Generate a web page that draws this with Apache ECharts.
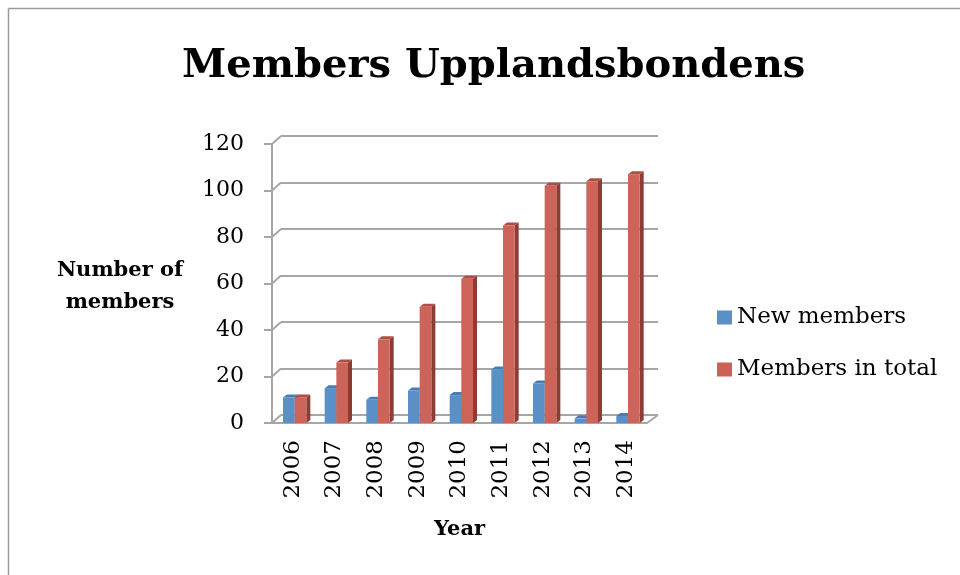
<!DOCTYPE html>
<html>
<head>
<meta charset="utf-8">
<script src="https://cdn.jsdelivr.net/npm/echarts@6/dist/echarts.min.js"></script>
<style>
  html, body { margin: 0; padding: 0; background: #fff; }
  #main { width: 960px; height: 575px; }
</style>
</head>
<body>
<div id="main"></div>
<script>
// data
var years = ['2006', '2007', '2008', '2009', '2010', '2011', '2012', '2013', '2014'];
var newMembers = [11, 15, 10, 14, 12, 23, 17, 2, 3];
var totalMembers = [11, 26, 36, 50, 62, 85, 102, 104, 107];
var yTicks = [0, 20, 40, 60, 80, 100, 120];

var serif = '"DejaVu Serif", "Liberation Serif", serif';
var gridColor = '#a6a6a6';
var DX = 9, DY = -8;     // back wall offset
var BX = 4, BY = -3;     // bar depth

function bar3d(slot, front, side, top) {
  return function (params, api) {
    var i = api.value(0);
    var band = api.size([1, 0])[0];
    var c0 = api.coord([i, 0]);
    var c1 = api.coord([i, api.value(1)]);
    var w = band * 0.28;
    var x0 = c0[0] - band / 2 + band * 0.264 + slot * w;
    var x1 = x0 + w;
    var yb = c0[1], yt = c1[1];
    return {
      type: 'group',
      children: [
        { type: 'polygon', shape: { points: [[x1, yt], [x1 + BX, yt + BY], [x1 + BX, yb + BY], [x1, yb]] }, style: { fill: side } },
        { type: 'polygon', shape: { points: [[x0, yt], [x0 + BX, yt + BY], [x1 + BX, yt + BY], [x1, yt]] }, style: { fill: top } },
        { type: 'rect', shape: { x: x0, y: yt, width: w, height: yb - yt }, style: { fill: front } }
      ]
    };
  };
}

var chart = echarts.init(document.getElementById('main'));
chart.setOption({
  animation: false,
  title: {
    text: 'Members Upplandsbondens',
    left: 177,
    top: 42,
    textStyle: { fontFamily: serif, fontWeight: 'bold', fontSize: 40, color: '#000' }
  },
  legend: {
    orient: 'vertical',
    left: 717,
    top: 306,
    padding: 0,
    itemWidth: 15,
    itemHeight: 14,
    itemGap: 29,
    icon: 'rect',
    textStyle: { fontFamily: serif, fontSize: 23, color: '#000' },
    data: ['New members', 'Members in total']
  },
  graphic: [
    { type: 'line', shape: { x1: 8.5, y1: 8.5, x2: 8.5, y2: 575 }, style: { stroke: '#9a9a9a', lineWidth: 1.5 } },
    { type: 'line', shape: { x1: 8.5, y1: 8.5, x2: 960, y2: 8.5 }, style: { stroke: '#9a9a9a', lineWidth: 1.5 } },
    { type: 'text', x: 120, y: 287, style: { text: 'Number of\nmembers', align: 'center', verticalAlign: 'middle', fontFamily: serif, fontWeight: 'bold', fontSize: 21, lineHeight: 32, fill: '#000' } }
  ],
  grid: [
    { left: 272, right: 313, top: 144, bottom: 152 },
    { left: 272 + DX, right: 313 - DX - 2, top: 144 + DY, bottom: 152 - DY }
  ],
  xAxis: [
    {
      type: 'category', gridIndex: 0, data: years,
      name: 'Year', nameLocation: 'middle', nameGap: 96,
      nameTextStyle: { fontFamily: serif, fontWeight: 'bold', fontSize: 21, color: '#000' },
      axisLine: { lineStyle: { color: gridColor, width: 2 } },
      axisTick: { length: 7, lineStyle: { color: gridColor, width: 2 } },
      axisLabel: { rotate: 90, margin: 17, fontFamily: serif, fontSize: 23, color: '#000' }
    },
    { type: 'category', gridIndex: 1, data: years, show: false }
  ],
  yAxis: [
    {
      type: 'value', gridIndex: 0, min: 0, max: 120, interval: 20,
      axisLine: { show: true, lineStyle: { color: gridColor, width: 2 } },
      axisTick: { show: true, length: 8, lineStyle: { color: gridColor, width: 2 } },
      axisLabel: { margin: 28, fontFamily: serif, fontSize: 22, color: '#000' },
      splitLine: { show: false }
    },
    {
      type: 'value', gridIndex: 1, min: 0, max: 120, interval: 20,
      axisLine: { show: false }, axisTick: { show: false }, axisLabel: { show: false },
      splitLine: { lineStyle: { color: gridColor, width: 2 } }
    }
  ],
  series: [
    {
      // diagonal joins between the front axis and the back wall
      type: 'custom', xAxisIndex: 0, yAxisIndex: 0, silent: true,
      data: yTicks.map(function (v) { return [0, v]; }),
      renderItem: function (params, api) {
        var band = api.size([1, 0])[0];
        var c = api.coord([0, api.value(1)]);
        var x = c[0] - band / 2;
        var kids = [{ type: 'line', shape: { x1: x, y1: c[1], x2: x + DX, y2: c[1] + DY }, style: { stroke: gridColor, lineWidth: 2 } }];
        if (api.value(1) === 0) {
          var r = api.coord([years.length - 1, 0])[0] + band / 2;
          kids.push({ type: 'line', shape: { x1: r, y1: c[1], x2: r + DX + 2, y2: c[1] + DY }, style: { stroke: gridColor, lineWidth: 2 } });
        }
        return { type: 'group', children: kids };
      },
      z: 1
    },
    {
      name: 'New members', type: 'custom', xAxisIndex: 0, yAxisIndex: 0,
      itemStyle: { color: '#5b8fc7' },
      data: newMembers.map(function (v, i) { return [i, v]; }),
      renderItem: bar3d(0, '#5b8fc7', '#3c6a9c', '#4a7cb3'),
      z: 3
    },
    {
      name: 'Members in total', type: 'custom', xAxisIndex: 0, yAxisIndex: 0,
      itemStyle: { color: '#cd6158' },
      data: totalMembers.map(function (v, i) { return [i, v]; }),
      renderItem: bar3d(1, '#cd6459', '#8e3b34', '#b24c44'),
      z: 3
    }
  ]
});
</script>
</body>
</html>
